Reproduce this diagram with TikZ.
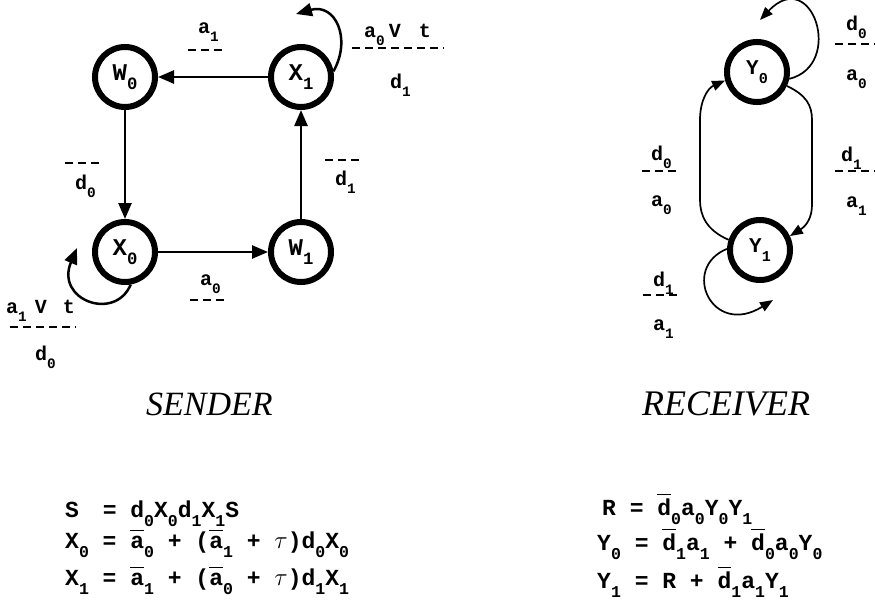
\documentclass[tikz,border=0pt]{standalone}
\usepackage{fontspec}
\usepackage{graphicx}
\setmainfont{Liberation Serif}
\setmonofont{Liberation Mono}
\usetikzlibrary{arrows.meta}
\newcommand\lo[1]{\raisebox{-0.4em}{\scalebox{0.72}{#1}}}
\newcommand\ov[2][0.72em]{\setbox0=\hbox{#2}\rlap{\rule[#1]{\wd0}{1.8pt}}\box0}
\newcommand\nodef{\ttfamily\bfseries\fontsize{24}{24}\selectfont}
\newcommand\nodefs{\ttfamily\bfseries\fontsize{21}{21}\selectfont}
\newcommand\labf{\ttfamily\bfseries\fontsize{20}{20}\selectfont}
\newcommand\eqf{\ttfamily\bfseries\fontsize{23}{23}\selectfont}
\newcommand\titf[1]{\rmfamily\itshape\fontsize{#1}{#1}\selectfont}
\begin{document}
\begin{tikzpicture}[x=1pt,y=-1pt,
  st/.style={circle,draw,line width=6pt,minimum size=60pt,inner sep=0pt,font=\nodef},
  edge/.style={line width=2.5pt,-{Triangle[length=16pt,width=13pt]}},
  redge/.style={line width=1.7pt,-{Triangle[length=13pt,width=10pt]}},
  lab/.style={inner sep=0pt,anchor=base west,font=\labf},
  eq/.style={inner sep=0pt,anchor=base west,font=\eqf},
  dsh/.style={line width=2pt,dash pattern=on 8pt off 5pt},
  ttl/.style={inner sep=0pt,anchor=base west}]
\useasboundingbox (0,0) rectangle (875,603);
% sender states
\node[st] (W0) at (125,77) {W\lo0};
\node[st] (X1) at (301,77) {X\lo1};
\node[st] (X0) at (125,252) {X\lo0};
\node[st] (W1) at (301,252) {W\lo1};
\draw[edge] (X1) -- (W0);
\draw[edge] (W0) -- (X0);
\draw[edge] (X0) -- (W1);
\draw[edge] (W1) -- (X1);
\coordinate (x1e) at (296,14);
\draw[edge] (X1.10) .. controls (352,38) and (335,3) .. (x1e);
\coordinate (x0e) at (77,248);
\draw[edge] (X0.-80) .. controls (115,322) and (55,300) .. (x0e);
% sender labels
\node[lab] (la1) at (198,33) {a\lo1};
\draw[dsh] (188,50) -- (224,50);
\node[lab] (lx1n) at (364,37) {a\lo0\hspace{4pt}V\hspace{18pt}t};
\draw[dsh] (352,48) -- (444,48);
\node[lab] (lx1d) at (390,88) {d\lo1};
\draw[dsh] (65,163) -- (103,163);
\node[lab] (ld0) at (75,189) {d\lo0};
\draw[dsh] (325,160) -- (363,160);
\node[lab] (ld1) at (335,185) {d\lo1};
\node[lab] (la0) at (200,285) {a\lo0};
\draw[dsh] (190,300) -- (226,300);
\node[lab] (lx0n) at (6,313) {a\lo1\hspace{8pt}V\hspace{16pt}t};
\draw[dsh] (10,327) -- (76,327);
\node[lab] (lx0d) at (35,360) {d\lo0};
% receiver states
\node[st,font=\nodefs] (Y0) at (757,72) {Y\lo0};
\node[st,font=\nodefs] (Y1) at (760,250) {Y\lo1};
\draw[redge] (Y1.162) .. controls (706,230) and (700,215) .. (700,200) -- (700,120) .. controls (700,100) and (708,88) .. (Y0.195);
\draw[redge] (Y0.-25) .. controls (806,95) and (812,105) .. (812,120) -- (812,205) .. controls (812,218) and (806,226) .. (Y1.25);
\coordinate (y0e) at (760,20);
\draw[redge] (Y0.-12) .. controls (845,65) and (812,-35) .. (y0e);
\coordinate (y1e) at (773,300);
\draw[redge] (Y1.178) .. controls (680,268) and (712,338) .. (y1e);
% receiver labels
\node[lab] (r1n) at (846,30) {d\lo0};
\draw[dsh] (835,44) -- (875,44);
\node[lab] (r1d) at (846,80) {a\lo0};
\node[lab] (r2n) at (651,160) {d\lo0};
\draw[dsh] (642,171) -- (679,171);
\node[lab] (r2d) at (651,206) {a\lo0};
\node[lab] (r3n) at (841,161) {d\lo1};
\draw[dsh] (835,171) -- (875,171);
\node[lab] (r3d) at (846,207) {a\lo1};
\node[lab] (r4n) at (653,286) {d\lo1};
\draw[dsh] (643,295) -- (679,295);
\node[lab] (r4d) at (653,330) {a\lo1};
% titles
\node[ttl,font={\titf{34}}] (snd) at (146,415) {SENDER};
\node[ttl,font={\titf{36}}] (rcv) at (642,415) {RECEIVER};
% equations
\node[eq] (e1) at (65,517) {S\hspace{10pt} = d\lo0X\lo0d\lo1X\lo1S};
\node[eq] (e2) at (65,548) {X\lo0 = \ov{a}\lo0 + (\ov{a}\lo1 + $\tau$)d\lo0X\lo0};
\node[eq] (e3) at (65,585) {X\lo1 = \ov{a}\lo1 + (\ov{a}\lo0 + $\tau$)d\lo1X\lo1};
\node[eq] (f1) at (602,515) {R = \ov[0.85em]{d}\lo0a\lo0Y\lo0Y\lo1};
\node[eq] (f2) at (597,550) {Y\lo0 = \ov[0.85em]{d}\lo1a\lo1 + \ov[0.85em]{d}\lo0a\lo0Y\lo0};
\node[eq] (f3) at (597,588) {Y\lo1 = R + \ov[0.85em]{d}\lo1a\lo1Y\lo1};
\end{tikzpicture}
\end{document}
